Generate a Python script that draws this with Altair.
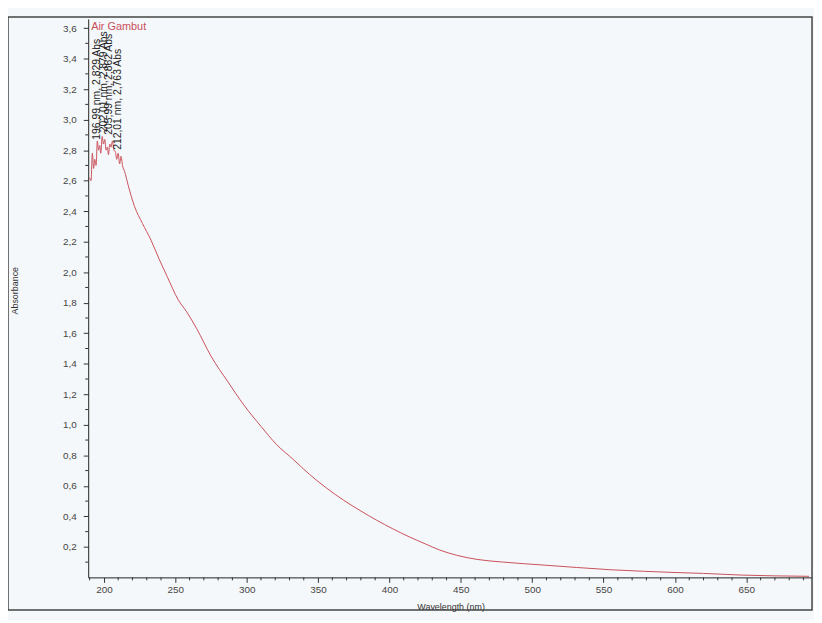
import altair as alt
import pandas as pd

# ---- spectrum ----
wavelength = [190.0, 191.0, 191.9, 192.8, 193.6, 194.5, 195.4, 196.2, 197.0, 197.8,
              198.8, 199.7, 200.6, 201.5, 202.4, 203.2, 204.1, 205.0, 206.0, 207.0,
              208.0, 209.0, 210.0, 211.0, 212.0, 213.0, 214.5, 217.0, 221.5, 227.0,
              233.0, 238.5, 244.4, 252.0, 258.0, 265.0, 275.0, 287.0, 298.0, 310.0,
              321.0, 333.0, 344.0, 356.0, 368.0, 380.0, 391.0, 402.0, 414.0, 425.0,
              435.0, 447.0, 462.0, 480.0, 509.0, 531.0, 555.0, 578.0, 600.0, 620.0,
              647.0, 670.0, 694.0]
absorbance = [2.62, 2.60, 2.78, 2.68, 2.74, 2.70, 2.86, 2.80, 2.83, 2.78,
              2.89, 2.84, 2.87, 2.80, 2.82, 2.77, 2.84, 2.82, 2.86, 2.80,
              2.79, 2.74, 2.78, 2.71, 2.76, 2.70, 2.66, 2.57, 2.43, 2.32,
              2.21, 2.09, 1.97, 1.82, 1.74, 1.63, 1.45, 1.28, 1.13, 0.99,
              0.87, 0.77, 0.675, 0.585, 0.505, 0.435, 0.375, 0.32, 0.265, 0.22,
              0.18, 0.145, 0.117, 0.10, 0.08, 0.065, 0.05, 0.04, 0.032, 0.026,
              0.015, 0.01, 0.007]

# ---- peak annotations ----
ann_wl = [196.99, 202.01, 205.99, 212.01]
ann_abs = [2.829, 2.879, 2.862, 2.763]
ann_text = ["196,99 nm, 2,829 Abs", "202,01 nm, 2,879 Abs",
            "205,99 nm, 2,862 Abs", "212,01 nm, 2,763 Abs"]

# ---- ticks ----
x_major = [200, 250, 300, 350, 400, 450, 500, 550, 600, 650]
x_minor = [190, 210, 220, 230, 240, 260, 270, 280, 290, 310, 320, 330, 340,
           360, 370, 380, 390, 410, 420, 430, 440, 460, 470, 480, 490, 510,
           520, 530, 540, 560, 570, 580, 590, 610, 620, 630, 640, 660, 670,
           680, 690]
y_major = [0.2, 0.4, 0.6, 0.8, 1.0, 1.2, 1.4, 1.6, 1.8, 2.0, 2.2, 2.4, 2.6,
           2.8, 3.0, 3.2, 3.4, 3.6]
y_minor = [0.1, 0.3, 0.5, 0.7, 0.9, 1.1, 1.3, 1.5, 1.7, 1.9, 2.1, 2.3, 2.5,
           2.7, 2.9, 3.1, 3.3, 3.5]

W, H = 731, 564
LINE = "#c8505a"
FONT = "Liberation Sans"

x_scale = alt.Scale(domain=[189, 696], nice=False, zero=False)
y_scale = alt.Scale(domain=[0, 3.66], nice=False, zero=False)

x_axis = alt.Axis(values=x_major, title="Wavelength (nm)", grid=False,
                  tickSize=5, labelPadding=2, labelFontSize=10,
                  labelColor="#444", labelFont=FONT, domainColor="#222",
                  tickColor="#333", titleFont=FONT, titleFontSize=9,
                  titleFontWeight="normal", titleColor="#333",
                  titleX=366, titleY=29, titleBaseline="middle")
y_axis = alt.Axis(values=y_major,
                  labelExpr="replace(format(datum.value, '.1f'), '.', ',')",
                  title="Absorbance", grid=False, tickSize=5,
                  labelPadding=7, labelFontSize=10, labelColor="#444",
                  labelFont=FONT, domainColor="#222", tickColor="#333",
                  titleFont=FONT, titleFontSize=9, titleFontWeight="normal",
                  titleColor="#333", titleX=-74, titleY=274,
                  titleBaseline="middle")

df = pd.DataFrame({"wl": wavelength, "abs": absorbance})

line = alt.Chart(df).mark_line(color=LINE, strokeWidth=1, interpolate="monotone").encode(
    x=alt.X("wl:Q", scale=x_scale, axis=x_axis),
    y=alt.Y("abs:Q", scale=y_scale, axis=y_axis),
)

xminor = alt.Chart(pd.DataFrame({"wl": x_minor})).mark_rule(
    color="#333", strokeWidth=1).encode(
    x=alt.X("wl:Q", scale=x_scale, axis=x_axis),
    y=alt.value(H), y2=alt.value(H + 3))

yminor = alt.Chart(pd.DataFrame({"abs": y_minor})).mark_rule(
    color="#333", strokeWidth=1).encode(
    y=alt.Y("abs:Q", scale=y_scale, axis=y_axis),
    x=alt.value(-3), x2=alt.value(0))

ann = alt.Chart(pd.DataFrame({"wl": ann_wl, "abs": ann_abs, "txt": ann_text})).mark_text(
    angle=270, align="left", baseline="alphabetic", dx=6, fontSize=10.5,
    font=FONT, color="#222").encode(
    x=alt.X("wl:Q", scale=x_scale, axis=x_axis),
    y=alt.Y("abs:Q", scale=y_scale, axis=y_axis),
    text="txt:N")

legend = alt.Chart(pd.DataFrame({"a": [0]})).mark_text(
    align="left", baseline="middle", fontSize=11, font=FONT, color=LINE).encode(
    x=alt.value(3), y=alt.value(8), text=alt.value("Air Gambut"))

frame = alt.Chart(pd.DataFrame({"a": [0]})).mark_rect(
    filled=False, stroke="#444", strokeWidth=1.5).encode(
    x=alt.value(-81), x2=alt.value(W), y=alt.value(-2), y2=alt.value(597))

chart = alt.layer(line, frame, xminor, yminor, ann, legend).properties(
    width=W, height=H,
    autosize=alt.AutoSizeParams(type="none"),
    padding={"left": 81, "top": 8, "right": 2, "bottom": 40},
    background="#f5f8fa",
).configure_view(stroke=None)

chart.save("out.html", embed_options={"renderer": "svg", "actions": False})
